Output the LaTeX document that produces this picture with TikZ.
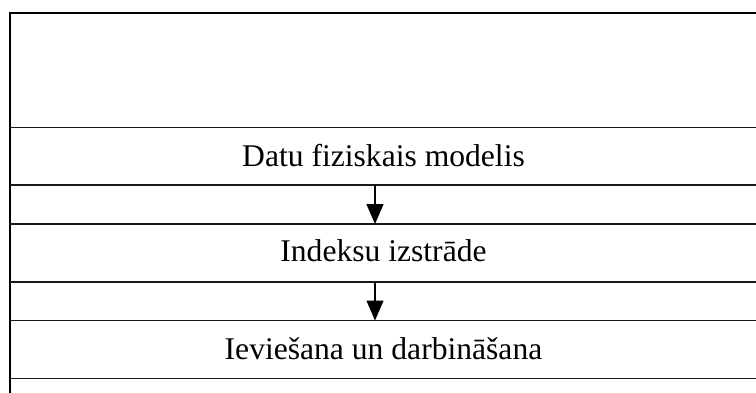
\documentclass[tikz,border=0pt]{standalone}
\usepackage{fontspec}
\setmainfont{Liberation Serif}
\usetikzlibrary{arrows.meta}
\tikzset{
  frame/.style={line width=2.2bp, line cap=rect},
  rule/.style={line width=1.6bp, black!90},
  flow/.style={line width=1.3bp, -{Triangle[width=17bp,length=20bp]}},
  label/.style={anchor=base, inner sep=0pt, font=\fontsize{31.6bp}{38bp}\selectfont}
}
\begin{document}
\begin{tikzpicture}[x=1bp,y=-1bp]
\useasboundingbox (0,0) rectangle (756,392);
% frame
\coordinate (tl) at (10,13);
\coordinate (tr) at (756,13);
\coordinate (bl) at (10,392);
\draw[frame] (tr) -- (tl) -- (bl);
% rules
\foreach \yy/\nm in {127.5/r1,185/r2,224/r3,281.7/r4,320.5/r5,378.5/r6}{
  \coordinate (\nm L) at (10,\yy);
  \coordinate (\nm R) at (756,\yy);
  \draw[rule] (\nm L) -- (\nm R);
}
% texts
\node[label] (t1) at (383.5,166.5) {Datu fiziskais modelis};
\node[label] (t2) at (383.5,261.7) {Indeksu izstrāde};
\node[label] (t3) at (383.5,359) {Ieviešana un darbināšana};
% arrows
\coordinate (a1s) at (375,185);
\coordinate (a1e) at (375,224);
\coordinate (a2s) at (375,281.7);
\coordinate (a2e) at (375,320.5);
\draw[flow] (a1s) -- (a1e);
\draw[flow] (a2s) -- (a2e);
\end{tikzpicture}
\end{document}
